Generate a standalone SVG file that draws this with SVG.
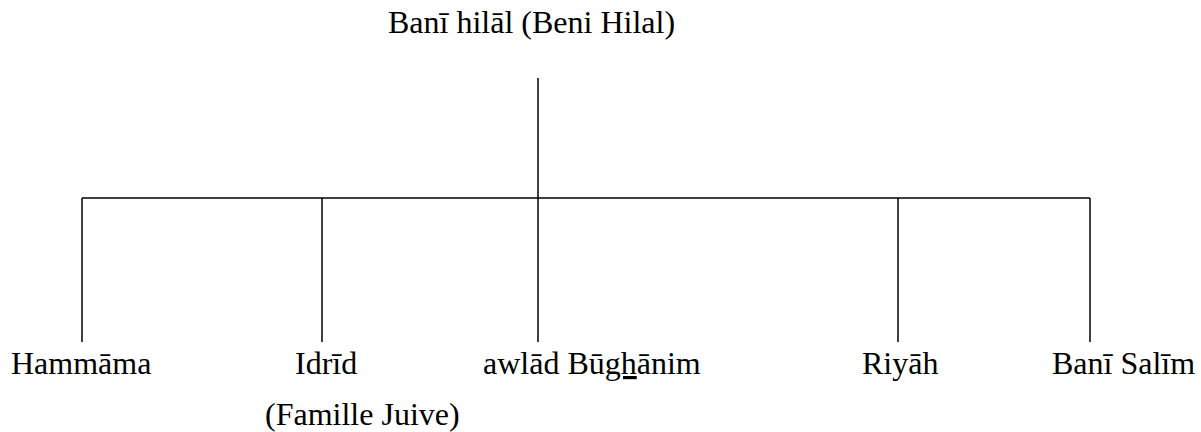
<svg xmlns="http://www.w3.org/2000/svg" width="1201" height="432" viewBox="0 0 1201 432">
<style>
text{font-family:"Liberation Serif","Times New Roman",serif;font-size:32px;fill:#000}
.c line{stroke:#000;stroke-width:1.5}
</style>
<rect width="1201" height="432" fill="#fff"/>
<g class="c" id="connectors">
<line x1="538" y1="78" x2="538" y2="198"/>
<line x1="82" y1="198" x2="1090" y2="198"/>
<line x1="82" y1="198" x2="82" y2="342"/>
<line x1="322" y1="198" x2="322" y2="342"/>
<line x1="538" y1="198" x2="538" y2="342"/>
<line x1="898" y1="198" x2="898" y2="342"/>
<line x1="1090" y1="198" x2="1090" y2="342"/>
</g>
<g id="root"><text x="388" y="33">Banī hilāl (Beni Hilal)</text></g>
<g id="hammama"><text x="11" y="374">Hammāma</text></g>
<g id="idrid"><text x="295" y="374">Idrīd</text><text x="265" y="425">(Famille Juive)</text></g>
<g id="awlad"><text x="483" y="374">awlād Bū<tspan text-decoration="underline">gh</tspan>ānim</text></g>
<g id="riyah"><text x="862" y="374">Riyāh</text></g>
<g id="banisalim"><text x="1052" y="374">Banī Salīm</text></g>
</svg>
